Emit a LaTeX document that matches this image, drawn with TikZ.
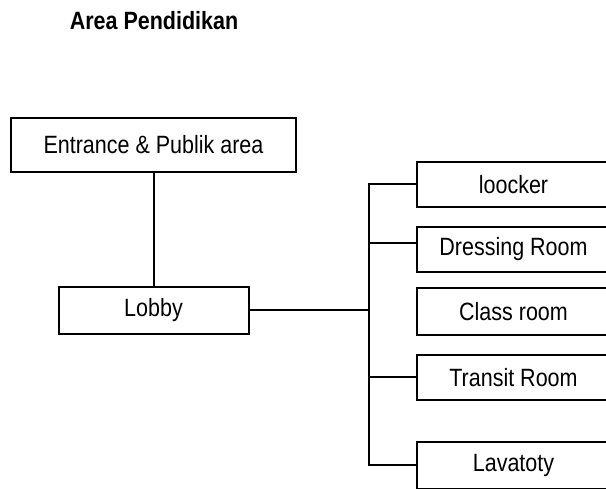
\documentclass[tikz,border=0pt]{standalone}
\usepackage{fontspec}
\setmainfont{Liberation Sans}[FakeStretch=0.86]
\usepackage{tikz}
\usetikzlibrary{positioning,calc}

\tikzset{
  box/.style={draw, line width=2pt, inner sep=0pt, minimum height=45pt},
  room/.style={box, minimum width=194pt},
  link/.style={line width=2pt}
}

\begin{document}
\begin{tikzpicture}[x=1pt, y=-1pt]
\useasboundingbox (0,0) rectangle (606,489);
\fontsize{25}{30}\selectfont
%nodes
\node (title) at (154,21) {\bfseries Area Pendidikan};
\node[box, minimum width=285pt, minimum height=54pt] (entrance) at (153.5,145) {Entrance \& Publik area};
\node[box, minimum width=190pt, minimum height=47pt, below = 113pt of entrance] (lobby) {Lobby};
\node[room] (loocker) at (513.5,184.5) {loocker};
\node[room, below = 18pt of loocker] (dressing) {Dressing Room};
\node[room, minimum height=47pt, below = 14pt of dressing] (class) {Class room};
\node[room, below = 18pt of class] (transit) {Transit Room};
\node[room, minimum height=47pt, below = 40pt of transit] (lavatory) {Lavatoty};
\coordinate (bus) at (369,0);
%lines
\draw[link] (entrance) -- (lobby);
\draw[link] (lobby.east) -- (lobby.east -| bus);
\draw[link] (loocker.west) -- (loocker.west -| bus) -- (lavatory.west -| bus) -- (lavatory.west);
\draw[link] ([yshift=6pt]dressing.west) -- ([yshift=6pt]dressing.west -| bus);
\draw[link] (transit.west) -- (transit.west -| bus);
\end{tikzpicture}
\end{document}
